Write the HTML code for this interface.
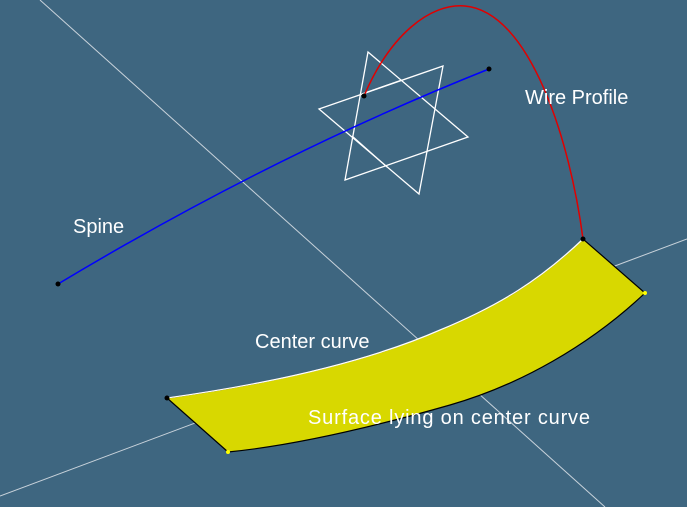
<!DOCTYPE html>
<html><head><meta charset="utf-8"><style>
html,body{margin:0;padding:0;background:#3e6680;}
svg{display:block}
text{font-family:"Liberation Sans",sans-serif;font-size:20px;fill:#fff}
</style></head><body>
<svg width="687" height="507" viewBox="0 0 687 507">
<rect width="687" height="507" fill="#3e6680"/>
<line x1="40" y1="0" x2="605" y2="507" stroke="#c8d2da" stroke-width="1"/>
<line x1="0" y1="496" x2="687" y2="239" stroke="#c8d2da" stroke-width="1"/>
<g fill="none" stroke="#fff" stroke-width="1.3">
<polygon points="368,52 468,137 345,180"/>
<polygon points="319,109 443,66 419,194"/>
<line x1="352" y1="136" x2="387" y2="167"/>
<line x1="362" y1="94" x2="402" y2="80"/>
</g>
<path d="M58,284 Q273,155 489,69" fill="none" stroke="#0000ff" stroke-width="1.5"/>
<path d="M364,96 C390,35 430,3 465,6 C530,12 570,140 583,239" fill="none" stroke="#e00000" stroke-width="1.5"/>
<path d="M167,398 C260,385 360,365 440,330 C500,305 540,280 583,239 L645,293 C590,345 520,385 450,405 C380,425 300,445 228,452 Z" fill="#d8d800" stroke="#000" stroke-width="1.2"/>
<path d="M167,398 C260,385 360,365 440,330 C500,305 540,280 583,239" fill="none" stroke="#fff" stroke-width="1.3"/>
<circle cx="58" cy="284" r="2.5" fill="#000"/>
<circle cx="489" cy="69" r="2.5" fill="#000"/>
<circle cx="364" cy="96" r="2.5" fill="#000"/>
<circle cx="583" cy="239" r="2.5" fill="#000"/>
<circle cx="167" cy="398" r="2.5" fill="#000"/>
<circle cx="645" cy="293" r="2" fill="#ffff00"/>
<circle cx="228" cy="452" r="2" fill="#ffff00"/>
<text x="525" y="104">Wire Profile</text>
<text x="73" y="233">Spine</text>
<text x="255" y="348">Center curve</text>
<text x="308" y="424" textLength="282">Surface lying on center curve</text>
</svg>
</body></html>
